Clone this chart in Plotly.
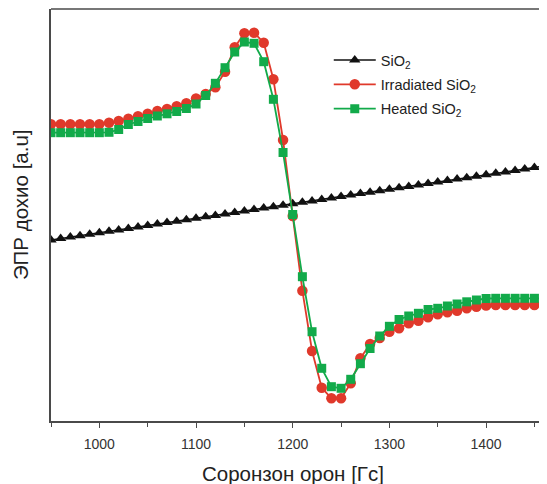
import plotly.graph_objects as go

# Magnetic field [G]
field = [950, 960, 970, 980, 990, 1000, 1010, 1020, 1030, 1040, 1050, 1060, 1070,
         1080, 1090, 1100, 1110, 1120, 1130, 1140, 1150, 1160, 1170, 1180, 1190,
         1200, 1210, 1220, 1230, 1240, 1250, 1260, 1270, 1280, 1290, 1300, 1310,
         1320, 1330, 1340, 1350, 1360, 1370, 1380, 1390, 1400, 1410, 1420, 1430,
         1440, 1450, 1460]

sio2 = [181.0, 182.4, 183.9, 185.3, 186.8, 188.2, 189.7, 191.1, 192.6, 194.0,
        195.5, 196.9, 198.4, 199.8, 201.3, 202.7, 204.2, 205.6, 207.1, 208.5,
        210.0, 211.4, 212.9, 214.3, 215.8, 217.2, 218.7, 220.1, 221.6, 223.0,
        224.5, 225.9, 227.4, 228.8, 230.3, 231.7, 233.2, 234.6, 236.1, 237.5,
        239.0, 240.4, 241.9, 243.3, 244.8, 246.2, 247.7, 249.1, 250.6, 252.0,
        253.5, 254.9]

irradiated = [296.7, 296.7, 296.7, 296.7, 296.7, 296.7, 298.3, 300.0, 302.2, 304.8,
              307.3, 310.0, 312.0, 314.7, 317.7, 322.5, 327.0, 333.7, 349.3, 373.8,
              387.7, 388.3, 378.3, 341.7, 281.0, 205.0, 130.3, 70.0, 33.3, 22.7,
              22.7, 37.7, 62.7, 77.0, 83.0, 89.3, 92.7, 97.7, 100.3, 103.7,
              106.7, 108.7, 110.3, 112.7, 114.3, 115.5, 116.0, 116.0, 116.0, 116.0,
              116.0, 116.0]

heated = [288.3, 288.3, 288.3, 288.3, 288.3, 288.3,
          288.7, 291.5, 296.5, 299.5, 302.5, 305.0, 307.2, 309.5, 312.5, 317.0,
          325.5, 337.7, 353.3, 369.0, 379.0, 377.7, 359.3, 321.7, 268.5, 206.5,
          144.3, 89.3, 52.7, 34.3, 32.7, 41.7, 57.3, 72.5, 85.0, 94.7,
          101.5, 105.0, 107.7, 111.5, 112.7, 115.0, 117.0, 119.2, 121.0, 122.5,
          122.7, 122.7, 122.7, 122.7, 122.7, 122.7]

series_names = ["SiO<sub>2</sub>", "Irradiated SiO<sub>2</sub>", "Heated SiO<sub>2</sub>"]
x_tick_vals = [1000, 1100, 1200, 1300, 1400]
x_tick_text = ["1000", "1100", "1200", "1300", "1400"]
x_title = "Соронзон орон [Гс]"
y_title = "ЭПР дохио [a.u]"

BLACK = "#111111"
RED = "#E0392B"
GREEN = "#12AA4A"
AXIS = "#4a4a4a"
FONT = "Liberation Sans, Arial, sans-serif"

fig = go.Figure()
fig.add_trace(go.Scatter(
    x=field, y=sio2, name=series_names[0], mode="lines+markers", legendgroup="a",
    line=dict(color=BLACK, width=1.5),
    marker=dict(symbol="triangle-up", size=10, color=BLACK),
))
fig.add_trace(go.Scatter(
    x=field, y=irradiated, name=series_names[1], mode="lines+markers", legendgroup="b",
    line=dict(color=RED, width=1.8),
    marker=dict(symbol="circle", size=10.5, color=RED),
))
fig.add_trace(go.Scatter(
    x=field, y=heated, name=series_names[2], mode="lines+markers", legendgroup="c",
    line=dict(color=GREEN, width=1.8),
    marker=dict(symbol="square", size=9, color=GREEN),
))

# page body has an 8px margin: figure sized to fit inside the 547x484 window
fig.update_layout(
    width=539, height=476,
    margin=dict(l=43, r=0, t=1, b=63, autoexpand=False),
    paper_bgcolor="white", plot_bgcolor="white",
    font=dict(family=FONT, color="#222222"),
    showlegend=True,
    legend=dict(
        x=0.56, y=0.915, xanchor="left", yanchor="top",
        bgcolor="rgba(0,0,0,0)", font=dict(size=14.5, color="#222222"),
        tracegroupgap=2.5, itemwidth=42,
    ),
    xaxis=dict(
        range=[950, 1463], tickvals=x_tick_vals, ticktext=x_tick_text,
        showline=True, linecolor=AXIS, linewidth=1.5,
        ticks="outside", ticklen=5, tickwidth=1.2, tickcolor=AXIS,
        ticklabelstandoff=4,
        minor=dict(tickvals=[950, 1050, 1150, 1250, 1350, 1450], ticks="outside",
                   ticklen=4, tickwidth=1.2, tickcolor=AXIS),
        showgrid=False, zeroline=False,
        tickfont=dict(size=14, color="#333333"),
    ),
    yaxis=dict(
        range=[0, 412], showline=True, linecolor=AXIS, linewidth=1.5,
        showticklabels=False, ticks="", showgrid=False, zeroline=False,
    ),
    shapes=[dict(type="line", xref="paper", yref="paper", x0=0, x1=1, y0=1, y1=1,
                 line=dict(color=AXIS, width=1.5))],
    annotations=[
        dict(text=x_title, xref="paper", yref="paper", x=0.487, y=-0.1286,
             xanchor="center", yanchor="middle", showarrow=False,
             font=dict(size=20.5, color="#222222")),
        dict(text=y_title, xref="paper", yref="paper", x=-0.0625, y=0.524,
             xanchor="center", yanchor="middle", showarrow=False, textangle=-90,
             font=dict(size=20.5, color="#222222")),
    ],
)

fig.write_html("out.html")
